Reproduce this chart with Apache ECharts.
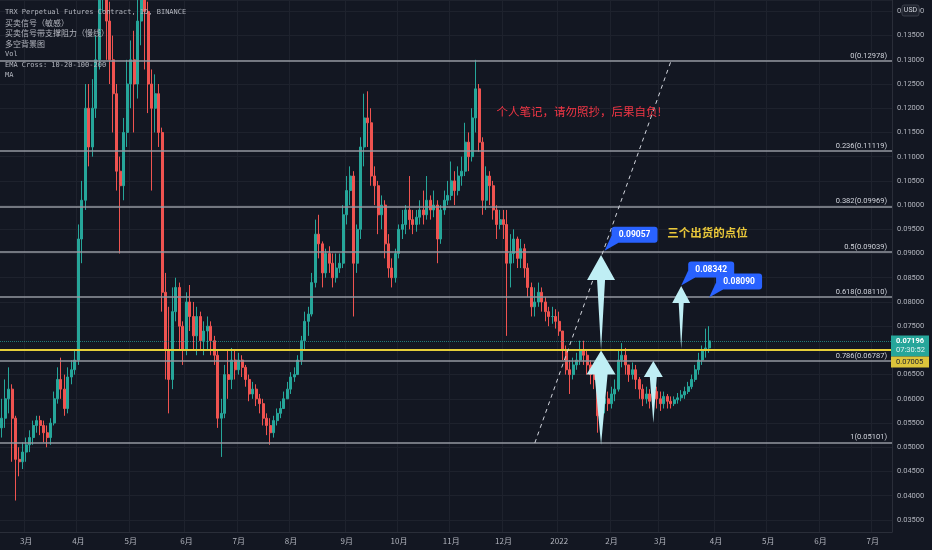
<!DOCTYPE html>
<html>
<head>
<meta charset="utf-8">
<script src="https://cdn.jsdelivr.net/npm/echarts@6/dist/echarts.min.js"></script>
<style>
html, body { margin: 0; padding: 0; background: #131722; }
#chart { width: 932px; height: 550px; }
</style>
</head>
<body>
<div id="chart"></div>
<script>
// TRX 日线（两天一根K线），从 2021-02-15 开始
var startDay = Date.UTC(2021, 1, 15);
var categoryCount = 256;
var firstOpen = 0.0540;
var closes = [
    0.0560, 0.0600, 0.0620, 0.0560, 0.0475, 0.0470, 0.0490, 0.0505, 0.0520, 0.0545,
    0.0555, 0.0545, 0.0530, 0.0520, 0.0550, 0.0600, 0.0640, 0.0620, 0.0580, 0.0645,
    0.0660, 0.0680, 0.0930, 0.1010, 0.1200, 0.1120, 0.1200, 0.1300, 0.1480, 0.1560,
    0.1380, 0.1300, 0.1230, 0.1070, 0.1040, 0.1150, 0.1250, 0.1300, 0.1250, 0.1380,
    0.1450, 0.1400, 0.1250, 0.1200, 0.1230, 0.1150, 0.0820, 0.0700, 0.0640, 0.0780,
    0.0830, 0.0750, 0.0700, 0.0800, 0.0770, 0.0730, 0.0770, 0.0720, 0.0740, 0.0750,
    0.0720, 0.0690, 0.0560, 0.0570, 0.0650, 0.0640, 0.0680, 0.0660, 0.0680, 0.0665,
    0.0640, 0.0610, 0.0620, 0.0600, 0.0590, 0.0560, 0.0545, 0.0530, 0.0555, 0.0570,
    0.0580, 0.0600, 0.0620, 0.0645, 0.0650, 0.0680, 0.0720, 0.0760, 0.0775, 0.0840,
    0.0940, 0.0920, 0.0860, 0.0900, 0.0880, 0.0850, 0.0870, 0.0880, 0.0980, 0.1030,
    0.1060, 0.0880, 0.0950, 0.1120, 0.1180, 0.1170, 0.1060, 0.1040, 0.0980, 0.1000,
    0.0920, 0.0870, 0.0850, 0.0900, 0.0950, 0.0960, 0.0990, 0.0970, 0.0960, 0.0975,
    0.0990, 0.0980, 0.1010, 0.0990, 0.1000, 0.0930, 0.0990, 0.1010, 0.1020, 0.1050,
    0.1030, 0.1060, 0.1070, 0.1130, 0.1100, 0.1180, 0.1240, 0.1130, 0.1010, 0.1060,
    0.1040, 0.0990, 0.0960, 0.0970, 0.0960, 0.0880, 0.0900, 0.0930, 0.0890, 0.0910,
    0.0870, 0.0830, 0.0790, 0.0800, 0.0820, 0.0800, 0.0780, 0.0770, 0.0770, 0.0760,
    0.0740, 0.0700, 0.0660, 0.0650, 0.0670, 0.0680, 0.0700, 0.0690, 0.0670, 0.0650,
    0.0640, 0.0565, 0.0590, 0.0600, 0.0590, 0.0610, 0.0620, 0.0680, 0.0690, 0.0670,
    0.0650, 0.0660, 0.0640, 0.0620, 0.0600, 0.0610, 0.0595, 0.0615, 0.0600, 0.0590,
    0.0605, 0.0595, 0.0590, 0.0598, 0.0602, 0.0608, 0.0615, 0.0625, 0.0640, 0.0660,
    0.0680, 0.0700, 0.0705, 0.07196
];
var highs = [
    0.0600, 0.0640, 0.0665, 0.0630, 0.0565, 0.0500, 0.0510, 0.0520, 0.0535, 0.0555,
    0.0565, 0.0565, 0.0555, 0.0545, 0.0560, 0.0615, 0.0665, 0.0685, 0.0650, 0.0665,
    0.0680, 0.0700, 0.0960, 0.1050, 0.1250, 0.1250, 0.1260, 0.1350, 0.1600, 0.1700,
    0.1600, 0.1420, 0.1350, 0.1250, 0.1100, 0.1180, 0.1300, 0.1340, 0.1360, 0.1480,
    0.1550, 0.1500, 0.1420, 0.1280, 0.1270, 0.1250, 0.1160, 0.0860, 0.0790, 0.0830,
    0.0850, 0.0840, 0.0760, 0.0820, 0.0835, 0.0800, 0.0790, 0.0780, 0.0760, 0.0770,
    0.0760, 0.0730, 0.0700, 0.0600, 0.0670, 0.0700, 0.0705, 0.0700, 0.0695, 0.0690,
    0.0670, 0.0650, 0.0635, 0.0630, 0.0610, 0.0600, 0.0570, 0.0560, 0.0565, 0.0580,
    0.0595, 0.0615, 0.0635, 0.0655, 0.0665, 0.0690, 0.0730, 0.0780, 0.0790, 0.0860,
    0.0970, 0.0980, 0.0925, 0.0910, 0.0915, 0.0900, 0.0900, 0.0900, 0.1000, 0.1060,
    0.1080, 0.1070, 0.0960, 0.1140, 0.1230, 0.1235, 0.1200, 0.1080, 0.1050, 0.1020,
    0.1010, 0.0940, 0.0890, 0.0910, 0.0960, 0.0990, 0.1000, 0.1060, 0.0990, 0.0990,
    0.1010, 0.1030, 0.1060, 0.1020, 0.1030, 0.1010, 0.1000, 0.1030, 0.1050, 0.1090,
    0.1070, 0.1080, 0.1100, 0.1170, 0.1150, 0.1200, 0.1300, 0.1250, 0.1140, 0.1080,
    0.1070, 0.1050, 0.1000, 0.0990, 0.0990, 0.0990, 0.0940, 0.0950, 0.0935, 0.0930,
    0.0920, 0.0880, 0.0840, 0.0830, 0.0840, 0.0830, 0.0810, 0.0790, 0.0790, 0.0785,
    0.0780, 0.0740, 0.0710, 0.0680, 0.0685, 0.0695, 0.0720, 0.0720, 0.0700, 0.0680,
    0.0665, 0.0650, 0.0610, 0.0615, 0.0615, 0.0625, 0.0640, 0.0700, 0.0715, 0.0705,
    0.0670, 0.0675, 0.0670, 0.0645, 0.0630, 0.0625, 0.0620, 0.0630, 0.0625, 0.0615,
    0.0615, 0.0610, 0.0605, 0.0605, 0.0612, 0.0618, 0.0625, 0.0635, 0.0650, 0.0670,
    0.0695, 0.0710, 0.0745, 0.0750
];
var lows = [
    0.0520, 0.0540, 0.0570, 0.0470, 0.0390, 0.0440, 0.0455, 0.0470, 0.0490, 0.0505,
    0.0530, 0.0525, 0.0510, 0.0500, 0.0505, 0.0545, 0.0590, 0.0600, 0.0565, 0.0570,
    0.0630, 0.0650, 0.0670, 0.0880, 0.0990, 0.1080, 0.1100, 0.1180, 0.1280, 0.1400,
    0.1300, 0.1250, 0.1150, 0.1030, 0.0900, 0.1010, 0.1120, 0.1200, 0.1150, 0.1220,
    0.1330, 0.1280, 0.1190, 0.1030, 0.1150, 0.1120, 0.0780, 0.0640, 0.0570, 0.0620,
    0.0760, 0.0700, 0.0670, 0.0690, 0.0740, 0.0700, 0.0690, 0.0700, 0.0690, 0.0700,
    0.0690, 0.0670, 0.0540, 0.0480, 0.0560, 0.0600, 0.0620, 0.0640, 0.0650, 0.0645,
    0.0625, 0.0595, 0.0600, 0.0585, 0.0570, 0.0545, 0.0525, 0.0505, 0.0520, 0.0545,
    0.0560, 0.0580, 0.0600, 0.0610, 0.0635, 0.0650, 0.0670, 0.0700, 0.0730, 0.0770,
    0.0830, 0.0890, 0.0830, 0.0850, 0.0860, 0.0830, 0.0840, 0.0860, 0.0870, 0.0960,
    0.1000, 0.0770, 0.0860, 0.0930, 0.1080, 0.1120, 0.1040, 0.1000, 0.0940, 0.0950,
    0.0890, 0.0850, 0.0830, 0.0840, 0.0890, 0.0930, 0.0940, 0.0950, 0.0940, 0.0945,
    0.0960, 0.0960, 0.0970, 0.0970, 0.0975, 0.0880, 0.0920, 0.0980, 0.1000, 0.1010,
    0.1000, 0.1020, 0.1040, 0.1060, 0.1070, 0.1090, 0.1150, 0.1110, 0.0980, 0.0990,
    0.1000, 0.0970, 0.0930, 0.0950, 0.0930, 0.0730, 0.0830, 0.0880, 0.0870, 0.0870,
    0.0850, 0.0810, 0.0770, 0.0770, 0.0790, 0.0780, 0.0760, 0.0750, 0.0755, 0.0745,
    0.0730, 0.0680, 0.0650, 0.0610, 0.0640, 0.0660, 0.0670, 0.0670, 0.0650, 0.0630,
    0.0620, 0.0530, 0.0540, 0.0570, 0.0575, 0.0580, 0.0595, 0.0615, 0.0665, 0.0650,
    0.0635, 0.0640, 0.0620, 0.0600, 0.0585, 0.0590, 0.0580, 0.0585, 0.0580, 0.0575,
    0.0580, 0.0580, 0.0580, 0.0585, 0.0590, 0.0595, 0.0600, 0.0610, 0.0620, 0.0635,
    0.0650, 0.0670, 0.0685, 0.0695
];
var monthNames = ['1月', '2月', '3月', '4月', '5月', '6月', '7月', '8月', '9月', '10月', '11月', '12月'];
// 斐波那契回撤
var fibRatios = ['0', '0.236', '0.382', '0.5', '0.618', '0.786', '1'];
var fibPrices = [0.12978, 0.11119, 0.09969, 0.09039, 0.08110, 0.06787, 0.05101];
var lastPrice = 0.07196;
var lastTime = '07:30:52';
var yellowLevel = 0.07005;
// 趋势线两端 [类目序号, 价格]
var trendLine = [[153, 0.0509], [192, 0.1296]];
// 箭头 [类目序号, 箭尖价格, 尾部价格]
var arrowPoints = [[172, 0.0897, 0.0701], [172, 0.0700, 0.0505], [187, 0.0678, 0.0550], [195, 0.0833, 0.0703]];
// 标注框 [类目序号, 价格]
var calloutPoints = [[173, 0.09057], [195, 0.08342], [203, 0.08090]];
var noteText = '个人笔记，请勿照抄，后果自负!';
var notePoint = [142, 0.1194];
var sellText = '三个出货的点位';
var sellPoint = [191, 0.0943];
var legendLines = ['TRX Perpetual Futures Contract, 1D, BINANCE', '买卖信号（敏感）', '买卖信号带支撑阻力（慢线）', '多空背景图', 'Vol', 'EMA Cross: 10-20-100-200', 'MA'];

(function () {
    var DAY = 86400000;
    var categories = [];
    for (var k = 0; k < categoryCount; k++) {
        categories.push(new Date(startDay + 2 * k * DAY).toISOString().slice(0, 10));
    }
    function monthStart(idx) {
        var a = new Date(startDay + 2 * idx * DAY);
        var b = new Date(startDay + (2 * idx + 1) * DAY);
        if (a.getUTCDate() === 1) return a;
        if (b.getUTCDate() === 1) return b;
        return null;
    }
    var candles = closes.map(function (c, i) {
        var o = i === 0 ? firstOpen : closes[i - 1];
        return [o, c, Math.min(lows[i], o, c), Math.max(highs[i], o, c)];
    });

    var fibLines = fibPrices.map(function (p, i) {
        return {
            yAxis: p,
            lineStyle: { color: '#9598a1', width: 1.6, type: 'solid' },
            label: {
                show: true,
                position: 'insideEndTop',
                formatter: fibRatios[i] + '(' + p.toFixed(5) + ')',
                color: '#d1d4dc',
                fontSize: 7.5,
                fontFamily: 'Roboto',
                distance: 1,
                padding: [0, 4, 0, 0]
            }
        };
    });
    var trendStyle = { color: '#d1d4dc', width: 1, type: [4, 4] };

    var myChart = echarts.init(document.getElementById('chart'));
    var option = {
        backgroundColor: '#131722',
        animation: false,
        grid: { left: 0, right: 40, top: 0, bottom: 18 },
        xAxis: {
            type: 'category',
            data: categories,
            boundaryGap: true,
            axisLine: { lineStyle: { color: '#2a2e39' } },
            axisTick: { show: false },
            axisLabel: {
                interval: function (idx) { return monthStart(idx) !== null; },
                formatter: function (v, idx) {
                    var d = monthStart(idx);
                    if (!d) return '';
                    return d.getUTCMonth() === 0 ? String(d.getUTCFullYear()) : monthNames[d.getUTCMonth()];
                },
                color: '#b2b5be',
                fontSize: 8,
                fontFamily: 'Noto Sans CJK SC',
                margin: 5
            },
            splitLine: {
                show: true,
                interval: function (idx) { return monthStart(idx) !== null; },
                lineStyle: { color: '#1e222d' }
            }
        },
        yAxis: {
            type: 'value',
            position: 'right',
            scale: true,
            min: 0.0325,
            max: 0.14235,
            splitNumber: 22,
            minInterval: 0.005,
            maxInterval: 0.005,
            axisLine: { show: true, lineStyle: { color: '#2a2e39' } },
            axisTick: { show: false },
            axisLabel: {
                showMinLabel: false,
                showMaxLabel: false,
                formatter: function (v) { return v.toFixed(5); },
                color: '#b2b5be',
                fontSize: 7.5,
                fontFamily: 'Roboto',
                margin: 5
            },
            splitLine: { lineStyle: { color: '#1e222d' } }
        },
        series: [{
            type: 'candlestick',
            data: candles,
            clip: true,
            barWidth: 2.5,
            itemStyle: {
                color: '#26a69a',
                color0: '#ef5350',
                borderColor: '#26a69a',
                borderColor0: '#ef5350',
                borderWidth: 1
            },
            markLine: {
                silent: true,
                precision: 5,
                symbol: ['none', 'none'],
                animation: false,
                data: fibLines.concat([
                    { yAxis: lastPrice, lineStyle: { color: '#26a69a', width: 1, type: 'dotted', opacity: 0.7 }, label: { show: false } },
                    { yAxis: yellowLevel, lineStyle: { color: '#e6cf3a', width: 1.8, type: 'solid' }, label: { show: false } },
                    [
                        { coord: [categories[trendLine[0][0]], trendLine[0][1]], lineStyle: trendStyle, label: { show: false } },
                        { coord: [categories[trendLine[1][0]], trendLine[1][1]], lineStyle: trendStyle, label: { show: false } }
                    ]
                ])
            }
        }]
    };
    myChart.setOption(option);

    function px(idx, price) {
        return myChart.convertToPixel({ gridIndex: 0 }, [idx, price]);
    }
    var graphics = [];
    var arrowSizes = [[25, 14, 4], [24, 14.5, 6.5], [16, 9.5, 3.5], [17, 9, 2.5]];
    arrowPoints.forEach(function (a, i) {
        var tip = px(a[0], a[1]);
        var base = px(a[0], a[2]);
        var s = arrowSizes[i];
        var hb = tip[1] + s[0];
        graphics.push({
            type: 'polygon', z: 50,
            shape: { points: [[tip[0], tip[1]], [tip[0] + s[1], hb], [tip[0] + s[2], hb], [tip[0], base[1]], [tip[0] - s[2], hb], [tip[0] - s[1], hb]] },
            style: { fill: '#bfeef4' }
        });
    });
    calloutPoints.forEach(function (c) {
        var p = px(c[0], c[1]);
        var bx = p[0] + 7, by = p[1] - 24, w = 46, h = 16;
        graphics.push({
            type: 'polygon', z: 60,
            shape: { points: [[p[0], p[1]], [bx, by + h - 7], [bx + 7, by + h]] },
            style: { fill: '#2962ff' }
        });
        graphics.push({ type: 'rect', z: 60, shape: { x: bx, y: by, width: w, height: h, r: 3 }, style: { fill: '#2962ff' } });
        graphics.push({
            type: 'text', z: 61,
            style: { text: c[1].toFixed(5), x: bx + w / 2, y: by + h / 2 + 0.5, fill: '#ffffff', font: 'bold 8.5px Roboto', textAlign: 'center', textVerticalAlign: 'middle' }
        });
    });
    var np = px(notePoint[0], notePoint[1]);
    graphics.push({
        type: 'text', z: 60,
        style: { text: noteText, x: np[0], y: np[1], fill: '#f23645', font: '11.5px "Noto Sans CJK SC"', textAlign: 'left', textVerticalAlign: 'middle' }
    });
    var sp = px(sellPoint[0], sellPoint[1]);
    graphics.push({
        type: 'text', z: 60,
        style: { text: sellText, x: sp[0], y: sp[1], fill: '#e9c73a', font: 'bold 11.5px "Noto Sans CJK SC"', textAlign: 'left', textVerticalAlign: 'middle' }
    });

    // 右侧价格标签
    var lp = px(0, lastPrice);
    var tealTop = lp[1] - 5.5;
    graphics.push({ type: 'rect', z: 70, shape: { x: 891, y: tealTop, width: 38, height: 21 }, style: { fill: '#26a69a' } });
    graphics.push({ type: 'text', z: 71, style: { text: lastPrice.toFixed(5), x: 896, y: tealTop + 5.5, fill: '#ffffff', font: 'bold 7.5px Roboto', textVerticalAlign: 'middle' } });
    graphics.push({ type: 'text', z: 71, style: { text: lastTime, x: 896, y: tealTop + 15, fill: '#e0f2f1', font: '7.5px Roboto', textVerticalAlign: 'middle' } });
    graphics.push({ type: 'rect', z: 70, shape: { x: 891, y: tealTop + 21, width: 38, height: 11 }, style: { fill: '#dcc43b' } });
    graphics.push({ type: 'text', z: 71, style: { text: yellowLevel.toFixed(5), x: 896, y: tealTop + 26.5, fill: '#1e222d', font: '7.5px Roboto', textVerticalAlign: 'middle' } });

    // USD 标记
    graphics.push({ type: 'rect', z: 70, shape: { x: 902, y: 5, width: 17, height: 11, r: 2 }, style: { fill: '#1e222d', stroke: '#434651', lineWidth: 0.8 } });
    graphics.push({ type: 'text', z: 71, style: { text: 'USD', x: 910.5, y: 10.5, fill: '#d1d4dc', font: '7px Roboto', textAlign: 'center', textVerticalAlign: 'middle' } });

    // 左上角指标名称
    legendLines.forEach(function (t, i) {
        var cjk = /[\u4e00-\u9fff]/.test(t);
        graphics.push({
            type: 'text', z: 80,
            style: {
                text: t, x: 5, y: 12 + i * 10.6,
                fill: '#b2b5be',
                font: cjk ? '8px "Noto Sans CJK SC"' : '7px "DejaVu Sans Mono"',
                textVerticalAlign: 'middle'
            }
        });
    });
    myChart.setOption({ graphic: graphics });

    window.addEventListener('resize', function () {
        myChart.resize();
    });
})();
</script>
</body>
</html>
